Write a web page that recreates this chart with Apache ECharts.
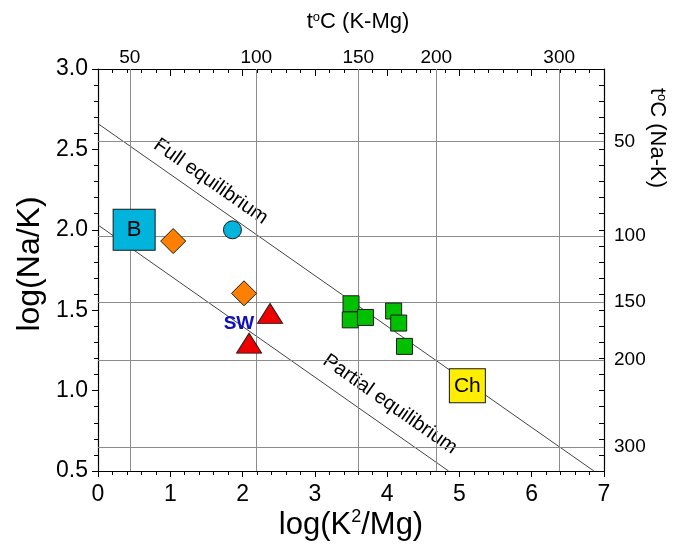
<!DOCTYPE html>
<html>
<head>
<meta charset="utf-8">
<script src="https://cdn.jsdelivr.net/npm/echarts@6/dist/echarts.min.js"></script>
<style>
html,body{margin:0;padding:0;background:#fff;}
#chart{width:683px;height:547px;}
</style>
</head>
<body>
<div id="chart"></div>
<script>
// ---- data ----
const xMin = 0, xMax = 7, yMin = 0.5, yMax = 3.0;
const kmgTempLabels = ['50', '100', '150', '200', '300'];
const kmgTempPos = [0.44, 2.19, 3.60, 4.68, 6.38];   // log(K2/Mg) positions of K-Mg temperatures
const nakTempLabels = ['50', '100', '150', '200', '300'];
const nakTempPos = [2.55, 1.963, 1.55, 1.19, 0.651]; // log(Na/K) positions of Na-K temperatures
const fullEquilibrium = [[0, 2.66], [6.86, 0.5]];
const partialEquilibrium = [[0, 2.03], [4.85, 0.5]];
const groupB = [[0.50, 2.00]];
const orangeDiamonds = [[1.04, 1.93], [2.02, 1.605]];
const cyanCircles = [[1.86, 2.00]];
const redTriangles = [[2.38, 1.48], [2.09, 1.295]];
const greenSquares = [[3.50, 1.54], [3.49, 1.44], [3.70, 1.455], [4.09, 1.495], [4.16, 1.42], [4.24, 1.275]];
const groupCh = [[5.11, 1.03]];
const swLabelAt = [1.95, 1.415];
const fullLabelAt = [1.56, 2.30];
const partialLabelAt = [4.04, 0.915];

const FONT = 'Arial, "Liberation Sans", sans-serif';
const chart = echarts.init(document.getElementById('chart'), null, {renderer: 'canvas'});

function labelFor(pos, labels) {
  return function (v) {
    for (let i = 0; i < pos.length; i++) if (Math.abs(v - pos[i]) < 1e-6) return labels[i];
    return '';
  };
}

const border = {borderColor: '#1a1a1a', borderWidth: 1, opacity: 1};

const option = {
  animation: false,
  backgroundColor: '#fff',
  grid: {left: 98, right: 79, top: 69, bottom: 76, containLabel: false},
  xAxis: [
    {
      type: 'value', min: xMin, max: xMax, interval: 1, position: 'bottom',
      axisLine: {show: true, onZero: false, lineStyle: {color: '#000', width: 1.2}},
      axisTick: {show: true, inside: false, length: 6, lineStyle: {color: '#000'}},
      minorTick: {show: true, splitNumber: 5, length: 4, lineStyle: {color: '#000'}},
      splitLine: {show: false},
      axisLabel: {fontSize: 23, color: '#000', fontFamily: FONT, margin: 12}
    },
    {
      type: 'value', min: xMin, max: xMax, interval: 1, position: 'top',
      axisLine: {show: true, onZero: false, lineStyle: {color: '#000', width: 1.2}},
      axisTick: {show: true, inside: true, length: 7, lineStyle: {color: '#000'}},
      minorTick: {show: true, splitNumber: 5, length: 4, lineStyle: {color: '#000'}},
      splitLine: {show: false},
      axisLabel: {
        fontSize: 19, color: '#000', fontFamily: FONT, margin: 2,
        customValues: kmgTempPos, formatter: labelFor(kmgTempPos, kmgTempLabels)
      }
    }
  ],
  yAxis: [
    {
      type: 'value', min: yMin, max: yMax, interval: 0.5, position: 'left',
      axisLine: {show: true, onZero: false, lineStyle: {color: '#000', width: 1.2}},
      axisTick: {show: true, inside: false, length: 6, lineStyle: {color: '#000'}},
      minorTick: {show: true, splitNumber: 5, length: 4, lineStyle: {color: '#000'}},
      splitLine: {show: false},
      axisLabel: {fontSize: 23, color: '#000', fontFamily: FONT, margin: 10,
        formatter: v => v.toFixed(1)}
    },
    {
      type: 'value', min: yMin, max: yMax, interval: 0.5, position: 'right',
      axisLine: {show: true, onZero: false, lineStyle: {color: '#000', width: 1.2}},
      axisTick: {show: true, inside: true, length: 5, lineStyle: {color: '#000'}},
      minorTick: {show: true, splitNumber: 5, length: 5, lineStyle: {color: '#000'}},
      splitLine: {show: false},
      axisLabel: {
        fontSize: 19, color: '#000', fontFamily: FONT, margin: 10,
        customValues: nakTempPos, formatter: labelFor(nakTempPos, nakTempLabels)
      }
    }
  ],
  series: [
    {
      name: 'grid', type: 'line', data: [], silent: true, z: 1,
      markLine: {
        silent: true, symbol: 'none', animation: false,
        label: {show: false},
        lineStyle: {color: '#8c8c8c', width: 1, type: 'solid'},
        data: kmgTempPos.map(v => ({xAxis: v})).concat(nakTempPos.map(v => ({yAxis: v})))
      }
    },
    {
      name: 'Full equilibrium', type: 'line', data: fullEquilibrium, symbol: 'none', z: 2,
      lineStyle: {color: '#444', width: 1}
    },
    {
      name: 'Partial equilibrium', type: 'line', data: partialEquilibrium, symbol: 'none', z: 2,
      lineStyle: {color: '#444', width: 1}
    },
    {
      name: 'annotations', type: 'scatter', symbolSize: 0, z: 3, silent: true,
      itemStyle: {opacity: 1},
      data: [
        {value: fullLabelAt, name: 'Full equilibrium', label: {rotate: -35}},
        {value: partialLabelAt, name: 'Partial equilibrium', label: {rotate: -35}}
      ],
      label: {show: true, position: 'inside', formatter: '{b}', fontSize: 20, color: '#000', fontFamily: FONT}
    },
    {
      name: 'B', type: 'scatter', data: groupB, symbol: 'rect', symbolSize: [42, 41], z: 5,
      itemStyle: Object.assign({color: '#00b4dc'}, border),
      label: {show: true, position: 'inside', formatter: 'B', fontSize: 22, color: '#000', fontFamily: FONT}
    },
    {
      name: 'orange', type: 'scatter', data: orangeDiamonds, symbol: 'diamond', symbolSize: [25, 25], z: 5,
      itemStyle: Object.assign({color: '#ff8000'}, border)
    },
    {
      name: 'cyan', type: 'scatter', data: cyanCircles, symbol: 'circle', symbolSize: 18, z: 5,
      itemStyle: Object.assign({color: '#00b4dc'}, border)
    },
    {
      name: 'SW', type: 'scatter', data: redTriangles, symbol: 'triangle', symbolSize: [25, 20], z: 5,
      itemStyle: Object.assign({color: '#ee0000'}, border)
    },
    {
      name: 'SWlabel', type: 'scatter', symbolSize: 0, z: 6, silent: true,
      data: [{value: swLabelAt, name: 'SW'}],
      itemStyle: {opacity: 1},
      label: {show: true, position: 'inside', formatter: '{b}', fontSize: 19, fontWeight: 'bold', color: '#1010c0', fontFamily: FONT}
    },
    {
      name: 'green', type: 'scatter', data: greenSquares, symbol: 'rect', symbolSize: 16, z: 5,
      itemStyle: Object.assign({color: '#00c000'}, border)
    },
    {
      name: 'Ch', type: 'scatter', data: groupCh, symbol: 'rect', symbolSize: [36, 34], z: 5,
      itemStyle: Object.assign({color: '#ffee00'}, border),
      label: {show: true, position: 'inside', formatter: 'Ch', fontSize: 21, color: '#000', fontFamily: FONT}
    }
  ],
  graphic: [
    {
      type: 'text', x: 358, y: 22, z: 10,
      style: {
        text: '{a|t}{s|o}{a|C (K-Mg)}', align: 'center', verticalAlign: 'middle',
        rich: {
          a: {fontSize: 22, fontFamily: FONT, fill: '#000'},
          s: {fontSize: 13, fontFamily: FONT, fill: '#000', padding: [0, 0, 10, 0]}
        }
      }
    },
    {
      type: 'text', x: 351, y: 525, z: 10,
      style: {
        text: '{a|log(K}{s|2}{a|/Mg)}', align: 'center', verticalAlign: 'middle',
        rich: {
          a: {fontSize: 31, fontFamily: FONT, fill: '#000'},
          s: {fontSize: 18, fontFamily: FONT, fill: '#000', padding: [0, 0, 16, 0]}
        }
      }
    },
    {
      type: 'text', x: 30, y: 264, rotation: Math.PI / 2, z: 10,
      style: {
        text: 'log(Na/K)', align: 'center', verticalAlign: 'middle',
        fontSize: 32, fontFamily: FONT, fill: '#000'
      }
    },
    {
      type: 'text', x: 657, y: 138, rotation: -Math.PI / 2, z: 10,
      style: {
        text: '{a|t}{s|o}{a|C (Na-K)}', align: 'center', verticalAlign: 'middle',
        rich: {
          a: {fontSize: 22, fontFamily: FONT, fill: '#000'},
          s: {fontSize: 13, fontFamily: FONT, fill: '#000', padding: [0, 0, 10, 0]}
        }
      }
    }
  ]
};
chart.setOption(option);
</script>
</body>
</html>
